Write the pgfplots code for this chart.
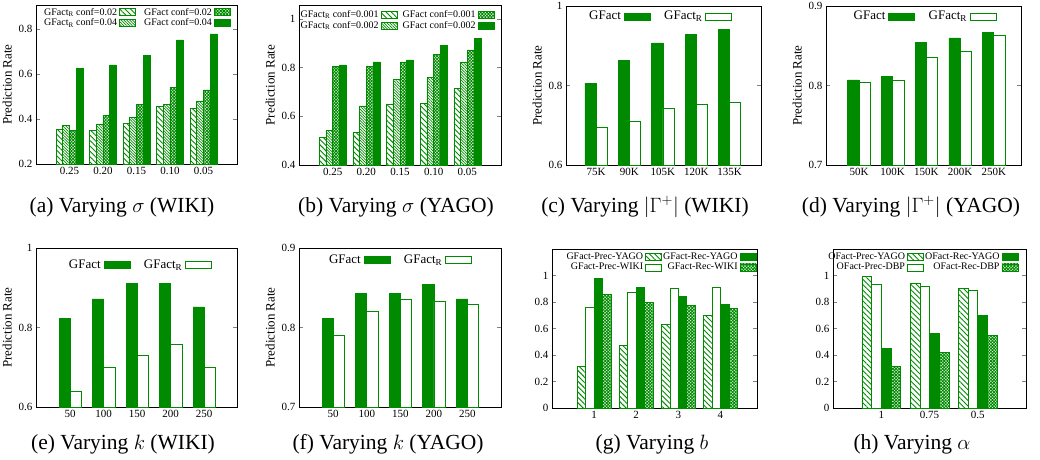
\documentclass[border=0pt]{standalone}
\usepackage{fontspec}
\setmainfont{Liberation Serif}
\usepackage{pgfplots}
\pgfplotsset{compat=1.18}
\usetikzlibrary{patterns,patterns.meta}
\definecolor{gg}{RGB}{0,138,0}

\pgfplotsset{
  panel/.style={
    scale only axis, anchor=south west, clip=true,
    axis line style={line width=0.7pt},
    tick align=inside, major tick length=4pt,
    xtick style={draw=none}, ytick style={line width=0.6pt},
    tick label style={font=\fontsize{11}{12}\selectfont},
    /pgf/number format/assume math mode=true,
    ylabel style={font=\fontsize{13}{14}\selectfont},
    xtick={0,...,4},
    every axis plot/.append style={ybar, draw=gg, line width=0.6pt},
    legend style={draw=none, fill=none, inner sep=0pt,
      font=\fontsize{10}{11}\selectfont, nodes={inner sep=1.2pt}},
    legend plot pos=right, legend cell align=right,
  },
  smallkey/.style={legend image code/.code={\draw[##1, bar shift=0pt] (0pt,-3.5pt) rectangle (16pt,3.5pt);}},
  widekey/.style={legend image code/.code={\draw[##1, bar shift=0pt] (0pt,-3.5pt) rectangle (26pt,3.5pt);},
    legend style={font=\fontsize{13}{14}\selectfont}},
  seps/.style 2 args={legend style={/tikz/every odd column/.append style={column sep=#1},
    /tikz/every even column/.append style={column sep=#2}}},
  full/.style={fill=gg},
  empty/.style={fill=white},
  sparse/.style={pattern={Lines[angle=-45,distance=3.8pt,line width=0.9pt]}, pattern color=gg},
  dense/.style={pattern={Lines[angle=-45,distance=2pt,line width=0.7pt]}, pattern color=gg},
  check/.style={pattern={Hatch[angle=45,distance=2.2pt,line width=0.9pt]}, pattern color=gg},
}

\begin{document}
\begin{tikzpicture}
\path[use as bounding box] (0,0) rectangle (1040pt,-459pt);

% (a)
\begin{axis}[panel, smallkey, seps={1pt}{7pt},
  at={(36pt,-164pt)}, width=201pt, height=159pt,
  xmin=-1, xmax=5, ymin=0.2, ymax=0.908,
  ytick={0.2,0.4,0.6,0.8}, xticklabels={0.25,0.20,0.15,0.10,0.05},
  ylabel={Prediction Rate}, bar width=0.2, legend columns=2,
  legend style={at={(axis description cs:0.97,0.99)}, anchor=north east}]
\addplot[sparse, bar shift=-0.3] coordinates {(0,0.355) (1,0.348) (2,0.382) (3,0.456) (4,0.449)};
\addlegendentry{GFact\textsubscript{R} conf=0.02}
\addplot[check, bar shift=0.1] coordinates {(0,0.348) (1,0.415) (2,0.464) (3,0.542) (4,0.530)};
\addlegendentry{GFact conf=0.02}
\addplot[dense, bar shift=-0.1] coordinates {(0,0.372) (1,0.379) (2,0.410) (3,0.467) (4,0.481)};
\addlegendentry{GFact\textsubscript{R} conf=0.04}
\addplot[full, bar shift=0.3] coordinates {(0,0.624) (1,0.641) (2,0.683) (3,0.753) (4,0.779)};
\addlegendentry{GFact conf=0.04}
\end{axis}

% (b)
\begin{axis}[panel, smallkey, seps={1pt}{4pt},
  at={(299pt,-165pt)}, width=202pt, height=160pt,
  xmin=-1, xmax=5, ymin=0.4, ymax=1.057,
  ytick={0.4,0.6,0.8,1}, xticklabels={0.25,0.20,0.15,0.10,0.05},
  ylabel={Prediction Rate}, bar width=0.2, legend columns=2,
  legend style={at={(axis description cs:0.968,0.975)}, anchor=north east}]
\addplot[sparse, bar shift=-0.3] coordinates {(0,0.513) (1,0.534) (2,0.651) (3,0.654) (4,0.714)};
\addlegendentry{GFact\textsubscript{R} conf=0.001}
\addplot[check, bar shift=0.1] coordinates {(0,0.804) (1,0.804) (2,0.823) (3,0.853) (4,0.873)};
\addlegendentry{GFact conf=0.001}
\addplot[dense, bar shift=-0.1] coordinates {(0,0.542) (1,0.643) (2,0.752) (3,0.761) (4,0.823)};
\addlegendentry{GFact\textsubscript{R} conf=0.002}
\addplot[full, bar shift=0.3] coordinates {(0,0.811) (1,0.823) (2,0.832) (3,0.891) (4,0.921)};
\addlegendentry{GFact conf=0.002}
\end{axis}

% (c)
\begin{axis}[panel, widekey, seps={1.6pt}{12.6pt},
  at={(566pt,-165pt)}, width=195pt, height=159pt,
  xmin=-0.9, xmax=4.94, ymin=0.6, ymax=1,
  ytick={0.6,0.8,1}, xticklabels={75K,90K,105K,120K,135K},
  ylabel={Prediction Rate}, bar width=0.333, legend columns=2,
  legend style={at={(axis description cs:0.852,0.975)}, anchor=north east}]
\addplot[full, bar shift=-0.1667] coordinates {(0,0.806) (1,0.864) (2,0.907) (3,0.928) (4,0.942)};
\addlegendentry{GFact}
\addplot[empty, bar shift=0.1667] coordinates {(0,0.695) (1,0.711) (2,0.743) (3,0.753) (4,0.759)};
\addlegendentry{GFact\textsubscript{R}}
\end{axis}

% (d)
\begin{axis}[panel, widekey, seps={1.6pt}{12.6pt},
  at={(826pt,-165pt)}, width=195pt, height=159pt,
  xmin=-0.98, xmax=4.81, ymin=0.7, ymax=0.9,
  ytick={0.7,0.8,0.9}, xticklabels={50K,100K,150K,200K,250K},
  ylabel={Prediction Rate}, bar width=0.333, legend columns=2,
  legend style={at={(axis description cs:0.875,0.975)}, anchor=north east}]
\addplot[full, bar shift=-0.1667] coordinates {(0,0.807) (1,0.811) (2,0.854) (3,0.860) (4,0.867)};
\addlegendentry{GFact}
\addplot[empty, bar shift=0.1667] coordinates {(0,0.804) (1,0.807) (2,0.835) (3,0.843) (4,0.863)};
\addlegendentry{GFact\textsubscript{R}}
\end{axis}

% (e)
\begin{axis}[panel, widekey, seps={1.6pt}{12.6pt},
  at={(36pt,-407pt)}, width=201pt, height=159pt,
  xmin=-1.02, xmax=4.98, ymin=0.6, ymax=1,
  ytick={0.6,0.8,1}, xticklabels={50,100,150,200,250},
  ylabel={Prediction Rate}, bar width=0.333, legend columns=2,
  legend style={at={(axis description cs:0.875,0.935)}, anchor=north east}]
\addplot[full, bar shift=-0.1667] coordinates {(0,0.822) (1,0.872) (2,0.911) (3,0.911) (4,0.852)};
\addlegendentry{GFact}
\addplot[empty, bar shift=0.1667] coordinates {(0,0.640) (1,0.700) (2,0.730) (3,0.759) (4,0.700)};
\addlegendentry{GFact\textsubscript{R}}
\end{axis}

% (f)
\begin{axis}[panel, widekey, seps={1.6pt}{12.6pt},
  at={(299pt,-407pt)}, width=202pt, height=159pt,
  xmin=-1.02, xmax=5, ymin=0.7, ymax=0.9,
  ytick={0.7,0.8,0.9}, xticklabels={50,100,150,200,250},
  ylabel={Prediction Rate}, bar width=0.333, legend columns=2,
  legend style={at={(axis description cs:0.856,0.965)}, anchor=north east}]
\addplot[full, bar shift=-0.1667] coordinates {(0,0.811) (1,0.843) (2,0.843) (3,0.854) (4,0.836)};
\addlegendentry{GFact}
\addplot[empty, bar shift=0.1667] coordinates {(0,0.790) (1,0.821) (2,0.836) (3,0.833) (4,0.829)};
\addlegendentry{GFact\textsubscript{R}}
\end{axis}

% (g)
\begin{axis}[panel, smallkey, seps={1pt}{0pt},
  at={(552pt,-408pt)}, width=205pt, height=159pt,
  xmin=-1, xmax=3.87, ymin=0, ymax=1.2,
  ytick={0,0.2,0.4,0.6,0.8,1}, xtick={0,...,3}, xticklabels={1,2,3,4},
  bar width=0.2, legend columns=2,
  legend style={at={(axis description cs:0.998,0.985)}, anchor=north east}]
\addplot[sparse, bar shift=-0.3] coordinates {(0,0.313) (1,0.472) (2,0.630) (3,0.700)};
\addlegendentry{GFact-Prec-YAGO}
\addplot[full, bar shift=0.1] coordinates {(0,0.980) (1,0.913) (2,0.845) (3,0.782)};
\addlegendentry{GFact-Rec-YAGO}
\addplot[empty, bar shift=-0.1] coordinates {(0,0.760) (1,0.873) (2,0.903) (3,0.910)};
\addlegendentry{GFact-Prec-WIKI}
\addplot[check, bar shift=0.3] coordinates {(0,0.860) (1,0.800) (2,0.775) (3,0.750)};
\addlegendentry{GFact-Rec-WIKI}
\end{axis}

% (h)
\begin{axis}[panel, smallkey, seps={1pt}{0pt},
  at={(833pt,-408pt)}, width=193pt, height=159pt,
  xmin=-1, xmax=3, ymin=0, ymax=1.2,
  ytick={0,0.2,0.4,0.6,0.8,1}, xtick={0,1,2}, xticklabels={1,0.75,0.5},
  bar width=0.2, legend columns=2,
  legend style={at={(axis description cs:0.961,0.985)}, anchor=north east}]
\addplot[sparse, bar shift=-0.3] coordinates {(0,0.995) (1,0.942) (2,0.904)};
\addlegendentry{OFact-Prec-YAGO}
\addplot[full, bar shift=0.1] coordinates {(0,0.452) (1,0.563) (2,0.700)};
\addlegendentry{OFact-Rec-YAGO}
\addplot[empty, bar shift=-0.1] coordinates {(0,0.934) (1,0.922) (2,0.891)};
\addlegendentry{OFact-Prec-DBP}
\addplot[check, bar shift=0.3] coordinates {(0,0.313) (1,0.422) (2,0.550)};
\addlegendentry{OFact-Rec-DBP}
\end{axis}

\tikzset{subcap/.style={anchor=base, font=\fontsize{21.5}{24}\selectfont, inner sep=0pt}}
\node[subcap] at (122pt,-212pt) {(a)\ Varying $\sigma$ (WIKI)};
\node[subcap] at (396pt,-212pt) {(b)\ Varying $\sigma$ (YAGO)};
\node[subcap] at (645pt,-212pt) {(c)\ Varying $|\Gamma^{+}|$ (WIKI)};
\node[subcap] at (911pt,-212pt) {(d)\ Varying $|\Gamma^{+}|$ (YAGO)};
\node[subcap] at (123pt,-449pt) {(e)\ Varying $k$ (WIKI)};
\node[subcap] at (388pt,-449pt) {(f)\ Varying $k$ (YAGO)};
\node[subcap] at (652pt,-449pt) {(g)\ Varying $b$};
\node[subcap] at (912pt,-449pt) {(h)\ Varying $\alpha$};
\end{tikzpicture}
\end{document}
